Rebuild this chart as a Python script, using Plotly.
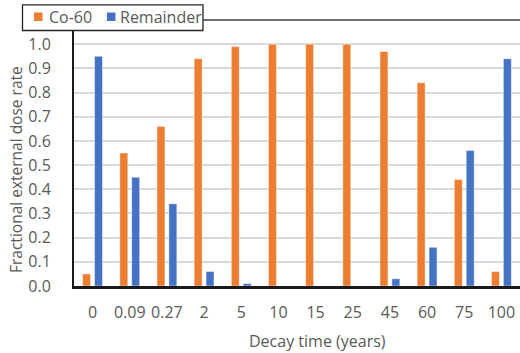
import plotly.graph_objects as go

# Decay times (years) and fractional contributions to the external dose rate
decay_time = ["0", "0.09", "0.27", "2", "5", "10", "15", "25", "45", "60", "75", "100"]
co60 = [0.05, 0.55, 0.66, 0.94, 0.99, 1.00, 1.00, 1.00, 0.97, 0.84, 0.44, 0.06]
remainder = [0.95, 0.45, 0.34, 0.06, 0.01, 0.00, 0.00, 0.00, 0.03, 0.16, 0.56, 0.94]
y_ticks = [0.0, 0.1, 0.2, 0.3, 0.4, 0.5, 0.6, 0.7, 0.8, 0.9, 1.0]
series_names = ["Co-60", "Remainder"]

ORANGE = "#ED7D31"
BLUE = "#4472C4"
TEXT = "#595959"
FONT = "Open Sans"

W, H = 520, 353
ML, MR, MT, MB = 74, 0, 20, 67
PW, PH = W - ML - MR, H - MT - MB


def px_x(x):
    """Pixel column -> paper x."""
    return (x - ML) / PW


def px_y(y):
    """Pixel row -> paper y."""
    return (H - MB - y) / PH


fig = go.Figure()
for name, vals, col in [(series_names[0], co60, ORANGE), (series_names[1], remainder, BLUE)]:
    fig.add_trace(go.Bar(x=decay_time, y=vals, name=name, showlegend=False,
                         marker=dict(color=col, line=dict(color="rgba(255,255,255,0.45)", width=1))))

# Boxed legend in the top-left corner, overlapping the plot frame
shapes = [
    dict(type="line", xref="paper", yref="paper", x0=0, x1=1, y0=1, y1=1,
         line=dict(color="#404040", width=1.5)),
    dict(type="rect", xref="paper", yref="paper", layer="above",
         x0=px_x(22.5), x1=px_x(203), y0=px_y(30.5), y1=px_y(4.8),
         fillcolor="white", line=dict(color="#262626", width=1.3)),
    dict(type="rect", xref="paper", yref="paper", layer="above",
         x0=px_x(34), x1=px_x(42.5), y0=px_y(21), y1=px_y(12.5),
         fillcolor=ORANGE, line=dict(width=0)),
    dict(type="rect", xref="paper", yref="paper", layer="above",
         x0=px_x(107), x1=px_x(115.5), y0=px_y(21), y1=px_y(12.5),
         fillcolor=BLUE, line=dict(width=0)),
]

annotations = [
    dict(text=series_names[0], xref="paper", yref="paper", x=px_x(46.5), y=px_y(17),
         xanchor="left", yanchor="middle", showarrow=False, font=dict(size=16, color=TEXT)),
    dict(text=series_names[1], xref="paper", yref="paper", x=px_x(118), y=px_y(17),
         xanchor="left", yanchor="middle", showarrow=False, font=dict(size=16, color=TEXT)),
    dict(text="Decay time (years)", xref="paper", yref="paper", x=px_x(317), y=px_y(341),
         xanchor="center", yanchor="middle", showarrow=False, font=dict(size=16, color=TEXT)),
    dict(text="Fractional external dose rate", xref="paper", yref="paper", x=px_x(16),
         y=px_y(170), xanchor="center", yanchor="middle", textangle=-90,
         showarrow=False, font=dict(size=15.5, color=TEXT)),
]

fig.update_layout(
    width=W, height=H,
    margin=dict(l=ML, r=MR, t=MT, b=MB, autoexpand=False),
    paper_bgcolor="white", plot_bgcolor="white",
    barmode="group", bargap=0.36, bargroupgap=0.33,
    font=dict(family=FONT, size=16, color=TEXT),
    showlegend=False,
    xaxis=dict(type="category", showgrid=False, showline=True, linecolor="#1a1a1a", linewidth=2.5,
               ticks="", ticklabelstandoff=10, tickfont=dict(size=16, color=TEXT)),
    yaxis=dict(range=[0, 1.1], tickvals=y_ticks, ticktext=[f"{v:.1f}" for v in y_ticks],
               showgrid=True, gridcolor="#D9D9D9", gridwidth=1.5, zeroline=False,
               showline=True, linecolor="#1a1a1a", linewidth=2,
               ticks="", ticklabelstandoff=18, tickfont=dict(size=16, color=TEXT)),
    shapes=shapes,
    annotations=annotations,
)

fig.write_html("out.html")
